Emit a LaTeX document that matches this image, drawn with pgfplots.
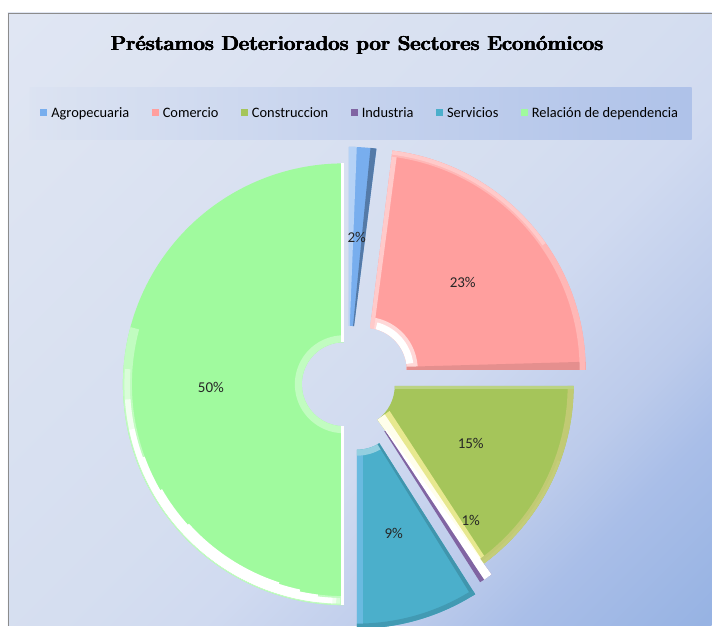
\documentclass[border=0pt]{standalone}
\usepackage{fontspec}
\setsansfont{Carlito}
\usepackage{pgfplots}
\usepackage{pgfplotstable}
\pgfplotsset{compat=1.18}

\definecolor{sl0}{HTML}{78AEEE}
\definecolor{sl1}{HTML}{FF9F9E}
\definecolor{sl2}{HTML}{A5C55A}
\definecolor{sl3}{HTML}{8064A2}
\definecolor{sl4}{HTML}{4BAFCB}
\definecolor{sl5}{HTML}{A0FA9E}
\definecolor{bgE0}{HTML}{E0E6F3}
\definecolor{bgD5}{HTML}{D5DEF0}
\definecolor{bgD2}{HTML}{D0DAF0}
\definecolor{bgBC}{HTML}{BCCBEB}
\definecolor{bgA9}{HTML}{A9BEE8}
\definecolor{bg97}{HTML}{97B3E3}
\pgfdeclareverticalshading{bgshade}{100bp}{color(0bp)=(bg97); color(15bp)=(bg97); color(25bp)=(bgA9); color(31bp)=(bgBC); color(42bp)=(bgD2); color(50bp)=(bgD5); color(85bp)=(bgE0); color(100bp)=(bgE0)}

% share (%), slice centre and label position in picture pixels (y from top)
\pgfplotstableread{
idx value cx cy lx ly
0 2 349 368 357 238
1 23 365 370 463 283
2 15 353 386 471 444
3 1 362 396 471 521
4 9 357 408 394 534
5 50 344 384.5 211 388
}\slices

\def\Ro{221pt}
\def\Ri{42pt}

\newcommand\mkpath[1]{%
  \xdef\cx{\csname cx#1\endcsname}\xdef\cy{\csname cy#1\endcsname}%
  \xdef\sa{\csname sa#1\endcsname}\xdef\ea{\csname ea#1\endcsname}%
  \xdef\spath{([shift={(\sa:\Ro)}]axis cs:\cx,\cy)
    arc[start angle=\sa, end angle=\ea, radius=\Ro]
    -- ([shift={(\ea:\Ri)}]axis cs:\cx,\cy)
    arc[start angle=\ea, end angle=\sa, radius=\Ri] -- cycle}}
\newcommand\slicewedge[2]{\mkpath{#1}\edef\tmp{\noexpand\fill[#2] \spath;}\tmp}
% bevel bands inside a slice
\newcommand\sband[4]{\mkpath{#1}\edef\tmp{\noexpand\fill[#2]
  ([shift={(\sa:\Ri)}]axis cs:\cx,\cy) -- ([shift={(\sa:\Ro)}]axis cs:\cx,\cy)
  -- ([shift={(\sa:\Ro)},shift={(\sa-90:#4)}]axis cs:\cx,\cy)
  -- ([shift={(\sa:\Ri)},shift={(\sa-90:#3)}]axis cs:\cx,\cy) -- cycle;}\tmp}
\newcommand\eband[4]{\mkpath{#1}\edef\tmp{\noexpand\fill[#2]
  ([shift={(\ea:\Ri)}]axis cs:\cx,\cy) -- ([shift={(\ea:\Ro)}]axis cs:\cx,\cy)
  -- ([shift={(\ea:\Ro)},shift={(\ea+90:#4)}]axis cs:\cx,\cy)
  -- ([shift={(\ea:\Ri)},shift={(\ea+90:#3)}]axis cs:\cx,\cy) -- cycle;}\tmp}
\newcommand\rband[6]{\mkpath{#1}\edef\tmp{\noexpand\fill[#2]
  ([shift={(#5:#4)}]axis cs:\cx,\cy) arc[start angle=#5, end angle=#6, radius=#4]
  -- ([shift={(#6:#3)}]axis cs:\cx,\cy) arc[start angle=#6, end angle=#5, radius=#3] -- cycle;}\tmp}
\newcommand\slicelabel[1]{%
  \edef\tmp{\noexpand\node[font=\noexpand\sffamily\noexpand\fontsize{15}{18}\noexpand\selectfont, text=black!85]
    at (axis cs:\csname lx#1\endcsname,\csname ly#1\endcsname) {\csname v#1\endcsname\noexpand\%};}\tmp}
\newcommand\heavy[1]{\rlap{#1}\rlap{\hspace{0.45pt}#1}\rlap{\hspace{0.9pt}#1}\rlap{\hspace{0.45pt}\raisebox{0.35pt}{#1}}\hspace{0.45pt}#1\hspace{0.45pt}}

\begin{document}
\begin{tikzpicture}
% compute slice angles from the shares
\gdef\cum{0}
\foreach \i in {0,...,5}{%
  \pgfplotstablegetelem{\i}{value}\of\slices
  \expandafter\xdef\csname v\i\endcsname{\pgfplotsretval}%
  \pgfmathsetmacro\sA{90-3.6*\cum}%
  \pgfmathsetmacro\eA{90-3.6*(\cum+\pgfplotsretval)}%
  \pgfmathsetmacro\nc{\cum+\pgfplotsretval}%
  \expandafter\xdef\csname sa\i\endcsname{\sA}%
  \expandafter\xdef\csname ea\i\endcsname{\eA}%
  \xdef\cum{\nc}%
  \pgfplotstablegetelem{\i}{cx}\of\slices
  \expandafter\xdef\csname cx\i\endcsname{\pgfplotsretval}%
  \pgfplotstablegetelem{\i}{cy}\of\slices
  \pgfmathsetmacro\t{626-\pgfplotsretval}%
  \expandafter\xdef\csname cy\i\endcsname{\t}%
  \pgfplotstablegetelem{\i}{lx}\of\slices
  \expandafter\xdef\csname lx\i\endcsname{\pgfplotsretval}%
  \pgfplotstablegetelem{\i}{ly}\of\slices
  \pgfmathsetmacro\t{626-\pgfplotsretval}%
  \expandafter\xdef\csname ly\i\endcsname{\t}%
}
% background
\fill[white] (0,0) rectangle (712pt,626pt);
\shade[shading=bgshade, shading angle=45] (8pt,0pt) rectangle (712pt,613pt);
\shade[left color=bgE0!60!bgD5, right color=bgA9!70!bgBC] (30pt,486pt) rectangle (692pt,538pt);
\draw[black!45, line width=0.9pt] (8pt,0pt) -- (8pt,613pt) -- (712pt,613pt);
\useasboundingbox (0,0) rectangle (712pt,626pt);

\begin{axis}[
  at={(0pt,0pt)}, anchor=south west,
  scale only axis, width=712pt, height=626pt,
  xmin=0, xmax=712, ymin=0, ymax=626,
  hide axis, clip=false,
  title={\bfseries\fontsize{20.2}{24}\selectfont\heavy{Préstamos Deteriorados por Sectores Económicos}},
  title style={at={(0.5014,0.918)}, anchor=center},
  legend image code/.code={\fill[#1, draw=none] (0pt,-3.5pt) rectangle (7pt,3.5pt); \path (9pt,0pt);},
  legend columns=6,
  legend style={at={(0.0562,0.8195)}, anchor=west, draw=none, fill=none,
    inner sep=0pt, font=\sffamily\fontsize{14.4}{16}\selectfont,
    /tikz/every even column/.append style={column sep=20.3pt}},
]
\addlegendimage{fill=sl0}\addlegendentry{Agropecuaria}
\addlegendimage{fill=sl1}\addlegendentry{Comercio}
\addlegendimage{fill=sl2}\addlegendentry{Construccion}
\addlegendimage{fill=sl3}\addlegendentry{Industria}
\addlegendimage{fill=sl4}\addlegendentry{Servicios}
\addlegendimage{fill=sl5}\addlegendentry{Relación de dependencia}

\pgfplotsinvokeforeach{0,...,5}{\slicewedge{#1}{sl#1}}
% bevel highlights
\sband{0}{white!45!sl0}{1pt}{8pt}
\eband{0}{sl0!70!black}{1pt}{6pt}
\rband{1}{white!60!sl1}{\Ri}{53pt}{\sa}{\ea}
\rband{1}{white}{\Ri}{49pt}{75}{8}
\sband{1}{white!45!sl1}{4pt}{5pt}
\eband{1}{sl1!90!black}{3pt}{8pt}
\rband{1}{white!25!sl1}{215pt}{\Ro}{\sa}{\ea}
\rband{1}{white!45!sl1}{217pt}{\Ro}{\sa}{35}
\eband{2}{white!60!yellow!70!sl2}{15pt}{6pt}
\eband{2}{white!92!yellow}{9pt}{2pt}
\rband{2}{white!30!yellow!20!sl2}{215pt}{\Ro}{\sa}{\ea}
\rband{2}{white!45!yellow!25!sl2}{218pt}{\Ro}{-20}{\ea}
\sband{2}{white!25!sl2}{3pt}{3pt}
\sband{3}{white}{1.2pt}{9pt}
\eband{4}{white!40!cyan!60!sl4}{6pt}{6pt}
\rband{4}{white!40!sl4}{\Ri}{48pt}{\sa}{\ea}
\sband{4}{sl4!85!black}{2pt}{4pt}
\rband{4}{sl4!88!black}{216pt}{\Ro}{\sa}{\ea}
\rband{5}{white!35!sl5}{212pt}{\Ro}{-90}{-195}
\rband{5}{white!60!sl5}{214pt}{219.5pt}{-91}{-184}
\rband{5}{white!85!sl5}{214pt}{219.5pt}{-92}{-176}
\rband{5}{white}{214pt}{219.5pt}{-93}{-168}
\rband{5}{white}{212pt}{219.5pt}{-97}{-160}
\rband{5}{white}{210pt}{219.5pt}{-102}{-150}
\rband{5}{white}{208.5pt}{219.5pt}{-108}{-138}
\rband{5}{white!35!sl5}{\Ri}{49pt}{\sa}{\ea}
\sband{5}{white}{3pt}{3pt}
\eband{5}{white}{3pt}{3pt}
\pgfplotsinvokeforeach{0,...,5}{\slicelabel{#1}}
\end{axis}
\end{tikzpicture}
\end{document}
